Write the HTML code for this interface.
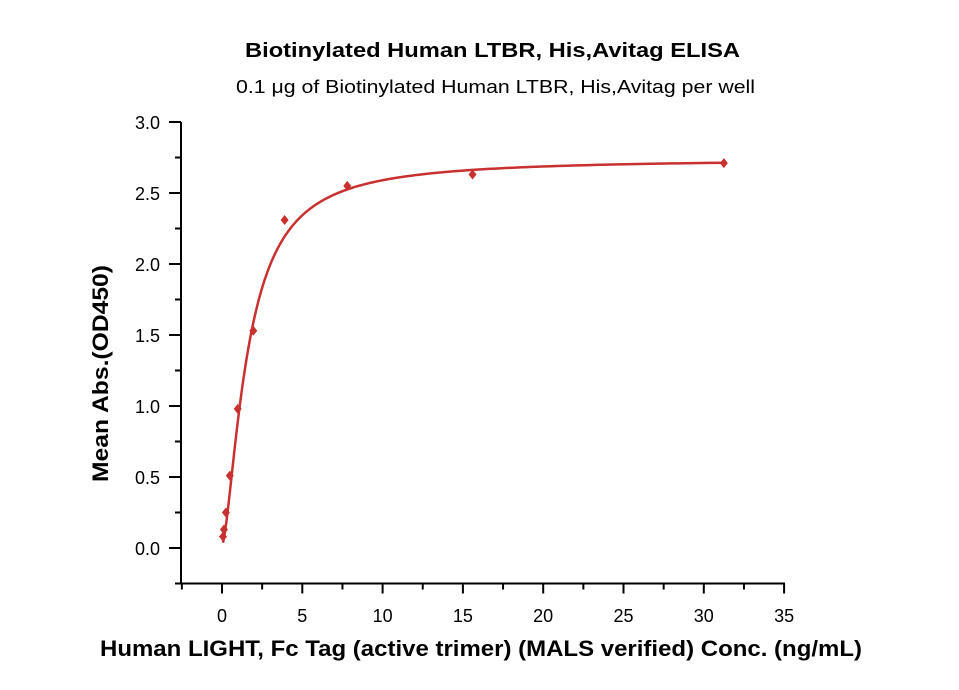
<!DOCTYPE html>
<html><head><meta charset="utf-8"><style>
body{margin:0;background:#fff;}
svg text{font-family:"Liberation Sans",sans-serif;fill:#000;}
</style></head><body>
<svg width="959" height="685" viewBox="0 0 959 685">
<text x="245" y="57" textLength="495" lengthAdjust="spacingAndGlyphs" font-size="20" font-weight="bold">Biotinylated Human LTBR, His,Avitag ELISA</text>
<text x="236" y="93" textLength="519" lengthAdjust="spacingAndGlyphs" font-size="18">0.1 μg of Biotinylated Human LTBR, His,Avitag per well</text>
<g id="axes"></g>
<g id="plot"></g>
<text x="100" y="656" textLength="762" lengthAdjust="spacingAndGlyphs" font-size="22" font-weight="bold">Human LIGHT, Fc Tag (active trimer) (MALS verified) Conc. (ng/mL)</text>
<text transform="translate(108,482) rotate(-90)" textLength="217" lengthAdjust="spacingAndGlyphs" font-size="22" font-weight="bold">Mean Abs.(OD450)</text>
</svg>
<script>
const concentrations=[0.061,0.122,0.244,0.488,0.977,1.95,3.9,7.8,15.6,31.25];
const absorbance=[0.08,0.13,0.25,0.51,0.98,1.53,2.31,2.55,2.63,2.71];
const xTicks=[0,5,10,15,20,25,30,35];
const yTicks=[0.0,0.5,1.0,1.5,2.0,2.5,3.0];
const fitBottom=[0.02];const fitTop=[2.74];const fitEC50=[1.6];const fitHill=[1.55];
const NS='http://www.w3.org/2000/svg';
const xs=v=>222+(v)*16.06;
const ys=v=>548-v*142;
function mk(t,a,p){const e=document.createElementNS(NS,t);for(const k in a)e.setAttribute(k,a[k]);p.appendChild(e);return e;}
const ax=document.getElementById('axes'),pl=document.getElementById('plot');
let l=mk('line',{x1:181,y1:ys(3),x2:181,y2:ys(-0.25)+1,stroke:'#000','stroke-width':2},ax);


l=mk('line',{x1:180,y1:ys(-0.25),x2:785,y2:ys(-0.25),stroke:'#000','stroke-width':2},ax);


for(let v=-2.5;v<=35.01;v+=2.5){const maj=Math.abs(v%5)<1e-6;const t=mk('line',{x1:xs(v),x2:xs(v),y1:ys(-0.25),y2:ys(-0.25)+(maj?10:6),stroke:'#000','stroke-width':2},ax);

}
xTicks.forEach(v=>{const t=mk('text',{x:xs(v),y:622,'text-anchor':'middle','font-size':18},ax);t.textContent=v;

});
for(let v=-0.25;v<=3.001;v+=0.25){const maj=Math.abs((v*2)%1)<1e-6;const t=mk('line',{x1:181,x2:181-(maj?12:6),y1:ys(v),y2:ys(v),stroke:'#000','stroke-width':2},ax);

}
yTicks.forEach(v=>{const t=mk('text',{x:160,y:ys(v)+7,'text-anchor':'end','font-size':18},ax);t.textContent=v.toFixed(1);

});
let d='';
for(let i=0;i<=400;i++){const c=0.061*Math.pow(31.25/0.061,i/400);const y=fitBottom[0]+(fitTop[0]-fitBottom[0])/(1+Math.pow(fitEC50[0]/c,fitHill[0]));d+=(i?'L':'M')+xs(c).toFixed(2)+','+ys(y).toFixed(2);}
const p=mk('path',{d:d,fill:'none',stroke:'#c8312f','stroke-width':2.5},pl);


concentrations.forEach((c,i)=>{const x=xs(c),y=ys(absorbance[i]);const m=mk('polygon',{points:`${x},${y-5} ${x+4},${y} ${x},${y+5} ${x-4},${y}`,fill:'#c8312f'},pl);

});
</script>
</body></html>
